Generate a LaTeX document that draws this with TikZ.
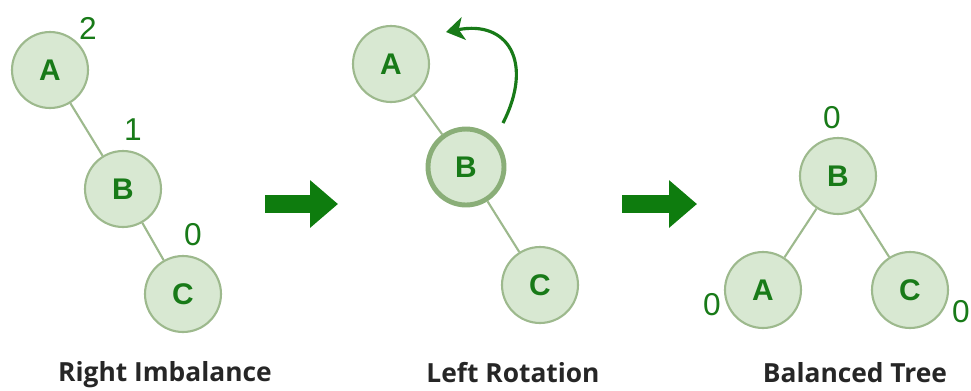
\documentclass[tikz,border=0pt]{standalone}
\usepackage{fontspec}
\setmainfont{Open Sans}
\newfontfamily\labelfont{Liberation Sans}
\usepackage{tikz}
\usetikzlibrary{arrows.meta}
\definecolor{nodefill}{HTML}{D8E8D2}
\definecolor{nodeline}{HTML}{9DB98D}
\definecolor{rootline}{HTML}{8AAE78}
\definecolor{txtgrn}{HTML}{187A18}
\definecolor{arrgrn}{HTML}{0E7C0E}
\definecolor{capgray}{HTML}{262626}

\begin{document}
\begin{tikzpicture}[x=0.02cm, y=-0.02cm,
  treenode/.style={circle, draw=nodeline, fill=nodefill, line width=1.2pt,
    minimum size=1.52cm, inner sep=0pt, text=txtgrn,
    font=\labelfont\fontsize{17}{17}\selectfont\bfseries},
  edge/.style={draw=nodeline, line width=1.2pt},
  bal/.style={text=txtgrn, font=\labelfont\fontsize{18}{18}\selectfont},
  caption/.style={text=capgray, font=\fontsize{15}{15}\selectfont\bfseries},
  bigarrow/.style={arrgrn, line width=0.36cm, -{Triangle[width=0.92cm, length=0.56cm]}},
  rotarrow/.style={txtgrn, line width=1.8pt, -{Stealth[width=0.46cm, length=0.36cm, inset=0.1cm]}}]
  \useasboundingbox (0,0) rectangle (971,390);
  % Right Imbalance
  \node[treenode] (a1) at (50,70) {A};
  \node[treenode] (b1) at (123,189) {B};
  \node[treenode] (c1) at (183,294) {C};
  \draw[edge] (a1) -- (b1);
  \draw[edge] (b1) -- (c1);
  \node[bal] (ha1) at (88,28) {2};
  \node[bal] (hb1) at (133,130) {1};
  \node[bal] (hc1) at (193,235) {0};
  % Arrow 1
  \coordinate (arr1s) at (265,204);
  \coordinate (arr1e) at (338,204);
  \draw[bigarrow] (arr1s) -- (arr1e);
  % Left Rotation
  \node[treenode] (a2) at (391,64) {A};
  \node[treenode, draw=rootline, line width=2.8pt] (b2) at (466,167) {B};
  \node[treenode] (c2) at (540,285) {C};
  \draw[edge] (a2) -- (b2);
  \draw[edge] (b2) -- (c2);
  \coordinate (rots) at (503,123);
  \coordinate (rote) at (446,32);
  \draw[rotarrow] (rots) .. controls (534,62) and (508,20) .. (rote);
  % Arrow 2
  \coordinate (arr2s) at (622,204);
  \coordinate (arr2e) at (697,204);
  \draw[bigarrow] (arr2s) -- (arr2e);
  % Balanced Tree
  \node[treenode] (b3) at (838,176) {B};
  \node[treenode] (a3) at (763,290) {A};
  \node[treenode] (c3) at (910,290) {C};
  \draw[edge] (b3) -- (a3);
  \draw[edge] (b3) -- (c3);
  \node[bal] (hb3) at (832,118) {0};
  \node[bal] (ha3) at (712,305) {0};
  \node[bal] (hc3) at (961,312) {0};
  % Captions
  \node[caption] (cap1) at (165,375) {Right Imbalance};
  \node[caption] (cap2) at (513,373) {Left Rotation};
  \node[caption] (cap3) at (855,373) {Balanced Tree};
\end{tikzpicture}
\end{document}
